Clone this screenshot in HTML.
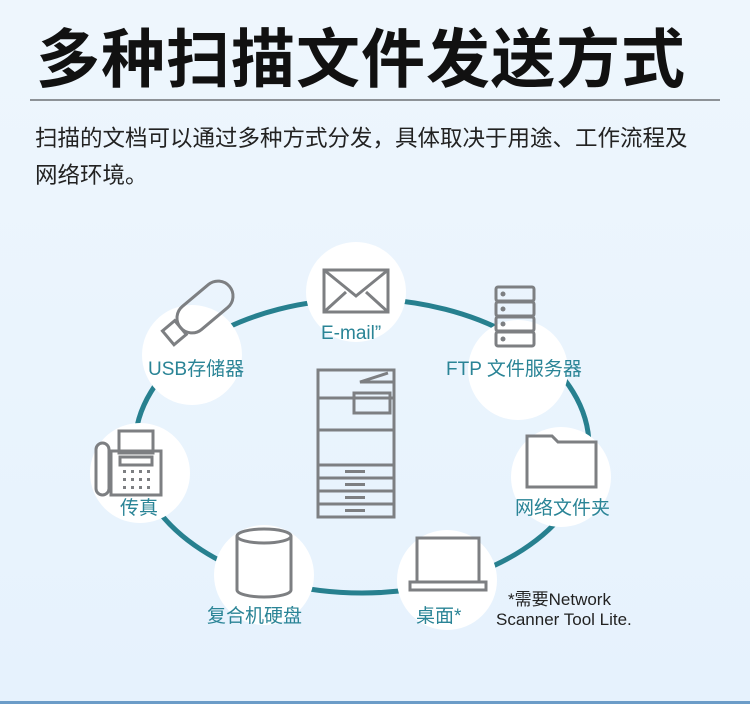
<!DOCTYPE html>
<html><head><meta charset="utf-8"><style>
body{margin:0;width:750px;height:704px;overflow:hidden;background:linear-gradient(#eef6fd,#e6f2fd);font-family:"Liberation Sans","Noto Sans CJK SC",sans-serif;position:relative}
.t{position:absolute;white-space:nowrap}
</style></head><body>
<div class="t" style="left:36px;top:9px;font-size:64px;font-weight:bold;color:#111;letter-spacing:1px">多种扫描文件发送方式</div>
<div style="position:absolute;left:30px;top:99px;width:690px;height:2px;background:#8d9297"></div>
<div class="t" style="left:35px;top:120px;font-size:22.5px;color:#222;line-height:37px">扫描的文档可以通过多种方式分发，具体取决于用途、工作流程及<br>网络环境。</div>
<div style="position:absolute;left:0;top:701px;width:750px;height:3px;background:#6b9cc8"></div>
<svg width="750" height="704" style="position:absolute;left:0;top:0">
<ellipse cx="362" cy="446" rx="227" ry="147" fill="none" stroke="#27808f" stroke-width="5"/>
<g fill="#fff">
<circle cx="356" cy="292" r="50"/><circle cx="192" cy="355" r="50"/><circle cx="518" cy="370" r="50"/>
<circle cx="140" cy="473" r="50"/><circle cx="561" cy="477" r="50"/><circle cx="264" cy="575" r="50"/><circle cx="447" cy="580" r="50"/>
</g>
<g fill="none" stroke="#7d7f82" stroke-width="3">
<rect x="324" y="270" width="64" height="42"/><polyline points="324,270 356,296 388,270"/><line x1="324" y1="312" x2="346" y2="292"/><line x1="388" y1="312" x2="366" y2="292"/>
<g transform="translate(205,307) rotate(-40)"><rect x="-32" y="-15" width="64" height="30" rx="15"/><rect x="-48" y="-9" width="16" height="18"/></g>
<rect x="496" y="287" width="38" height="14" rx="2"/><rect x="496" y="302" width="38" height="14" rx="2"/><rect x="496" y="317" width="38" height="14" rx="2"/><rect x="496" y="332" width="38" height="14" rx="2"/>
<path d="M527,487 V436 H552 L558,442 H596 V487 Z"/>
<rect x="96" y="443" width="13" height="52" rx="6.5"/><rect x="119" y="431" width="34" height="22"/><rect x="111" y="451" width="50" height="44"/><rect x="120" y="457" width="32" height="8"/>
<ellipse cx="264" cy="536" rx="27" ry="7"/><path d="M237,536 V590 A27,7 0 0 0 291,590 V536"/>
<rect x="417" y="538" width="62" height="44"/><path d="M410,582 H486 V590 H410 Z"/>
<rect x="318" y="370" width="76" height="147"/><line x1="318" y1="398" x2="394" y2="398"/><line x1="318" y1="430" x2="394" y2="430"/><line x1="318" y1="465" x2="394" y2="465"/><line x1="318" y1="478" x2="394" y2="478"/><line x1="318" y1="491" x2="394" y2="491"/><line x1="318" y1="504" x2="394" y2="504"/>
<rect x="354" y="393" width="36" height="20"/><polyline points="388,373 360,382 394,382"/>
</g>
<g fill="#7d7f82">
<rect x="345" y="470" width="20" height="3"/><rect x="345" y="483" width="20" height="3"/><rect x="345" y="496" width="20" height="3"/><rect x="345" y="509" width="20" height="3"/>
<circle cx="503" cy="294" r="2.5"/><circle cx="503" cy="309" r="2.5"/><circle cx="503" cy="324" r="2.5"/><circle cx="503" cy="339" r="2.5"/>
<rect x="123" y="470" width="3" height="3"/><rect x="131" y="470" width="3" height="3"/><rect x="139" y="470" width="3" height="3"/><rect x="147" y="470" width="3" height="3"/>
<rect x="123" y="478" width="3" height="3"/><rect x="131" y="478" width="3" height="3"/><rect x="139" y="478" width="3" height="3"/><rect x="147" y="478" width="3" height="3"/>
<rect x="123" y="486" width="3" height="3"/><rect x="131" y="486" width="3" height="3"/><rect x="139" y="486" width="3" height="3"/><rect x="147" y="486" width="3" height="3"/>
</g>
<g font-family="Liberation Sans,Noto Sans CJK SC,sans-serif" font-size="19" fill="#2a8496">
<text x="321" y="339">E-mail”</text>
<text x="148" y="375">USB存储器</text>
<text x="446" y="375">FTP 文件服务器</text>
<text x="120" y="514">传真</text>
<text x="515" y="514">网络文件夹</text>
<text x="207" y="622">复合机硬盘</text>
<text x="416" y="622">桌面*</text>
</g>
<g font-family="Liberation Sans,Noto Sans CJK SC,sans-serif" font-size="17" fill="#222">
<text x="508" y="605">*需要Network</text>
<text x="496" y="625">Scanner Tool Lite.</text>
</g>
</svg>
</body></html>
